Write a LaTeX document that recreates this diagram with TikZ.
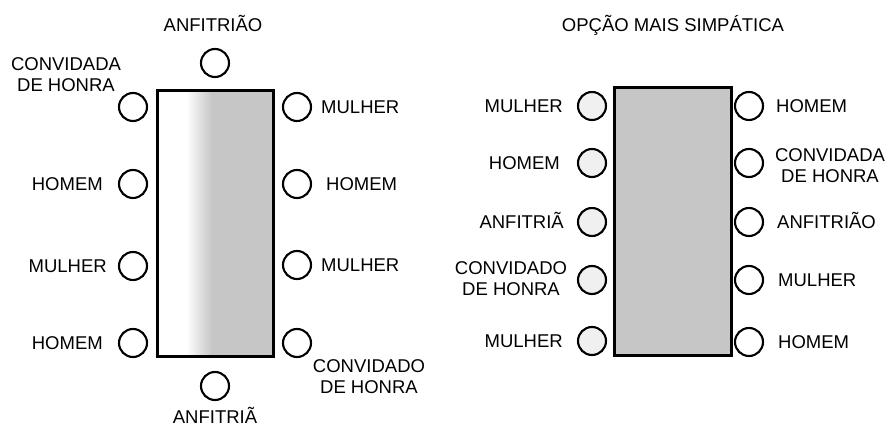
\documentclass[tikz,border=0pt]{standalone}
\usepackage{fontspec}
\setmainfont{Liberation Sans}
\begin{document}
\begin{tikzpicture}[x=1pt,y=-1pt,
  seat/.style={circle,draw,line width=2.1pt,minimum size=28pt,inner sep=0pt,fill=white},
  dotseat/.style={seat,fill=gray!12},
  lbl/.style={font=\fontsize{18.5}{21}\selectfont,inner sep=0pt,text height=13pt,text depth=0pt},
  lbltwo/.style={font=\fontsize{18.5}{21}\selectfont,inner sep=0pt,align=center},
  tablebox/.style={draw,line width=3pt,inner sep=0pt}]
\useasboundingbox (0,0) rectangle (887,427);

% ---------- left table ----------
\fill[white] (157,91) rectangle (273,357);
\shade[left color=white,right color=gray!45] (186,91) rectangle (212,357);
\fill[gray!45] (212,91) rectangle (273,357);
\node[tablebox,minimum width=116pt,minimum height=266pt] (T1) at (215,224) {};

\node[seat] (A1) at (215,63) {};
\node[seat] (A2) at (215,386) {};
\node[seat] (L1) at (133,107) {};
\node[seat] (L2) at (133,184) {};
\node[seat] (L3) at (133,266) {};
\node[seat] (L4) at (133,343) {};
\node[seat] (R1) at (297,107) {};
\node[seat] (R2) at (297,184) {};
\node[seat] (R3) at (297,265) {};
\node[seat] (R4) at (297,343) {};

\node[lbl,anchor=base] (tA1) at (213,32) {ANFITRIÃO};
\node[lbl,anchor=base] (tA2) at (215,424) {ANFITRIÃ};
\node[lbltwo] (tL1) at (66,75) {CONVIDADA\\DE HONRA};
\node[lbl,anchor=east] (tL2) at (103,184) {HOMEM};
\node[lbl,anchor=east] (tL3) at (107,266) {MULHER};
\node[lbl,anchor=east] (tL4) at (103,343) {HOMEM};
\node[lbl,anchor=west] (tR1) at (321,107) {MULHER};
\node[lbl,anchor=west] (tR2) at (326,184) {HOMEM};
\node[lbl,anchor=west] (tR3) at (321,265) {MULHER};
\node[lbltwo] (tR4) at (369,377) {CONVIDADO\\DE HONRA};

% ---------- right table ----------
\fill[gray!45] (614,88) rectangle (731,356);
\node[tablebox,minimum width=117pt,minimum height=268pt] (T2) at (672.5,222) {};

\node[dotseat] (P1) at (592,106) {};
\node[dotseat] (P2) at (592,163) {};
\node[dotseat] (P3) at (592,222) {};
\node[dotseat] (P4) at (592,280) {};
\node[dotseat] (P5) at (592,341) {};
\node[seat] (Q1) at (749,106) {};
\node[seat] (Q2) at (749,163) {};
\node[seat] (Q3) at (749,222) {};
\node[seat] (Q4) at (749,280) {};
\node[seat] (Q5) at (749,342) {};

\node[lbl,anchor=base] (title) at (673,32) {OPÇÃO MAIS SIMPÁTICA};
\node[lbl,anchor=east] (tP1) at (563,106) {MULHER};
\node[lbl,anchor=east] (tP2) at (560,163) {HOMEM};
\node[lbl,anchor=east] (tP3) at (564,222) {ANFITRIÃ};
\node[lbltwo] (tP4) at (511,279) {CONVIDADO\\DE HONRA};
\node[lbl,anchor=east] (tP5) at (563,341) {MULHER};
\node[lbl,anchor=west] (tQ1) at (776,106) {HOMEM};
\node[lbltwo] (tQ2) at (830,166) {CONVIDADA\\DE HONRA};
\node[lbl,anchor=west] (tQ3) at (777,222) {ANFITRIÃO};
\node[lbl,anchor=west] (tQ4) at (778,280) {MULHER};
\node[lbl,anchor=west] (tQ5) at (778,342) {HOMEM};
\end{tikzpicture}
\end{document}
